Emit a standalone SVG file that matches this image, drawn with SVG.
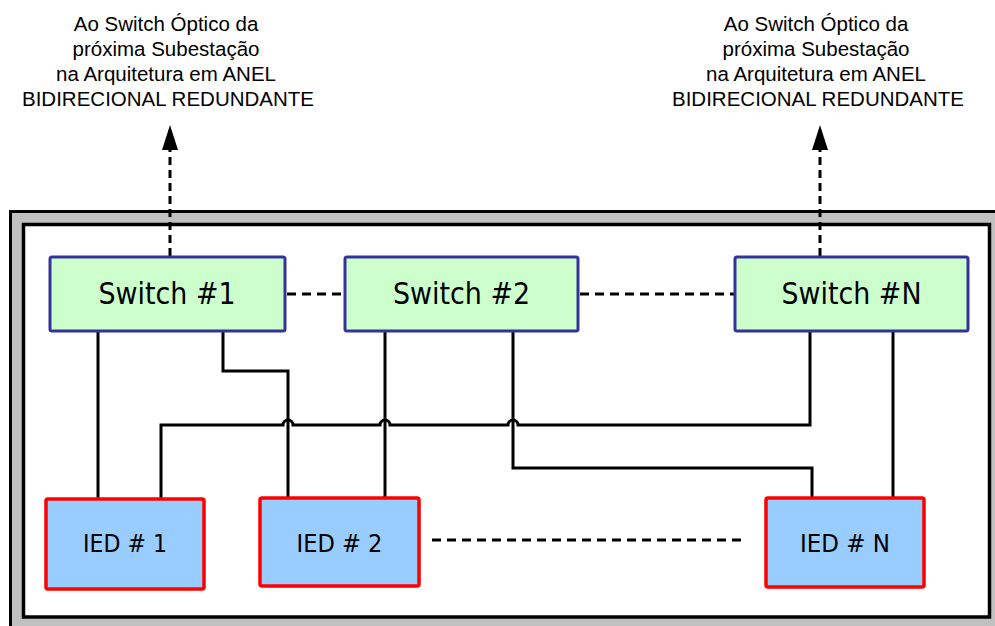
<svg xmlns="http://www.w3.org/2000/svg" width="995" height="626" viewBox="0 0 995 626">
<style>
.top{font-family:'Liberation Sans',Arial,sans-serif;font-size:20.5px;fill:#000;text-anchor:middle}
.sw rect{fill:#ccffcc;stroke:#333399;stroke-width:3}
.ied rect{fill:#99ccff;stroke:#ff0000;stroke-width:3.5}
.lbl{font-family:'DejaVu Sans Condensed','DejaVu Sans',sans-serif;font-stretch:condensed;fill:#000;text-anchor:middle}
.wire{fill:none;stroke:#000;stroke-width:3}
.dash{fill:none;stroke:#000;stroke-width:3;stroke-dasharray:9,6}
.adash{fill:none;stroke:#000;stroke-width:3;stroke-dasharray:8,5}
</style>
<rect x="0" y="0" width="995" height="626" fill="#fff"/>
<g id="frame">
<rect x="10.5" y="211.5" width="1000" height="430" fill="#c0c0c0" stroke="#000" stroke-width="3"/>
<rect x="23.5" y="224.5" width="966" height="392.5" fill="#fff" stroke="#000" stroke-width="3.5"/>
</g>
<g id="label-left">
<text class="top" x="166" y="31">Ao Switch Óptico da</text>
<text class="top" x="166" y="56">próxima Subestação</text>
<text class="top" x="166" y="81">na Arquitetura em ANEL</text>
<text class="top" x="168" y="106">BIDIRECIONAL REDUNDANTE</text>
</g>
<g id="label-right">
<text class="top" x="816" y="31">Ao Switch Óptico da</text>
<text class="top" x="816" y="56">próxima Subestação</text>
<text class="top" x="816" y="81">na Arquitetura em ANEL</text>
<text class="top" x="818" y="106">BIDIRECIONAL REDUNDANTE</text>
</g>
<g id="connectors">
<path class="adash" d="M170,256 V149"/>
<polygon points="170,125 162,150 178,150" fill="#000"/>
<path class="adash" d="M820,256 V149"/>
<polygon points="820,125 812,150 828,150" fill="#000"/>
<path class="dash" d="M287,294 H344"/>
<path class="dash" d="M580,294 H734"/>
<path class="dash" d="M432,540 H747"/>
<path class="wire" d="M98,331 V499"/>
<path class="wire" d="M223,331 V371 H288 V498"/>
<path class="wire" d="M385,331 V498"/>
<path class="wire" d="M513,331 V468 H812 V498"/>
<path class="wire" d="M893,331 V498"/>
<path class="wire" d="M161,499 V425 H283 a5,5 0 0 1 10,0 H380 a5,5 0 0 1 10,0 H508 a5,5 0 0 1 10,0 H810 V331"/>
</g>
<g id="switch1" class="sw">
<rect x="50" y="257" width="235" height="74" rx="2"/>
<text class="lbl" x="167" y="304" font-size="30" textLength="137" lengthAdjust="spacingAndGlyphs">Switch #1</text>
</g>
<g id="switch2" class="sw">
<rect x="345" y="257" width="233" height="74" rx="2"/>
<text class="lbl" x="461.5" y="304" font-size="30" textLength="137" lengthAdjust="spacingAndGlyphs">Switch #2</text>
</g>
<g id="switchN" class="sw">
<rect x="735" y="257" width="233" height="74" rx="2"/>
<text class="lbl" x="851.5" y="304" font-size="30" textLength="140" lengthAdjust="spacingAndGlyphs">Switch #N</text>
</g>
<g id="ied1" class="ied">
<rect x="46" y="499" width="158" height="90" rx="2"/>
<text class="lbl" x="125" y="552" font-size="25" textLength="84" lengthAdjust="spacingAndGlyphs">IED # 1</text>
</g>
<g id="ied2" class="ied">
<rect x="260" y="498" width="159" height="88" rx="2"/>
<text class="lbl" x="339.5" y="552" font-size="25" textLength="86" lengthAdjust="spacingAndGlyphs">IED # 2</text>
</g>
<g id="iedN" class="ied">
<rect x="766" y="498" width="158" height="89" rx="2"/>
<text class="lbl" x="845" y="552" font-size="25" textLength="90" lengthAdjust="spacingAndGlyphs">IED # N</text>
</g>
</svg>
